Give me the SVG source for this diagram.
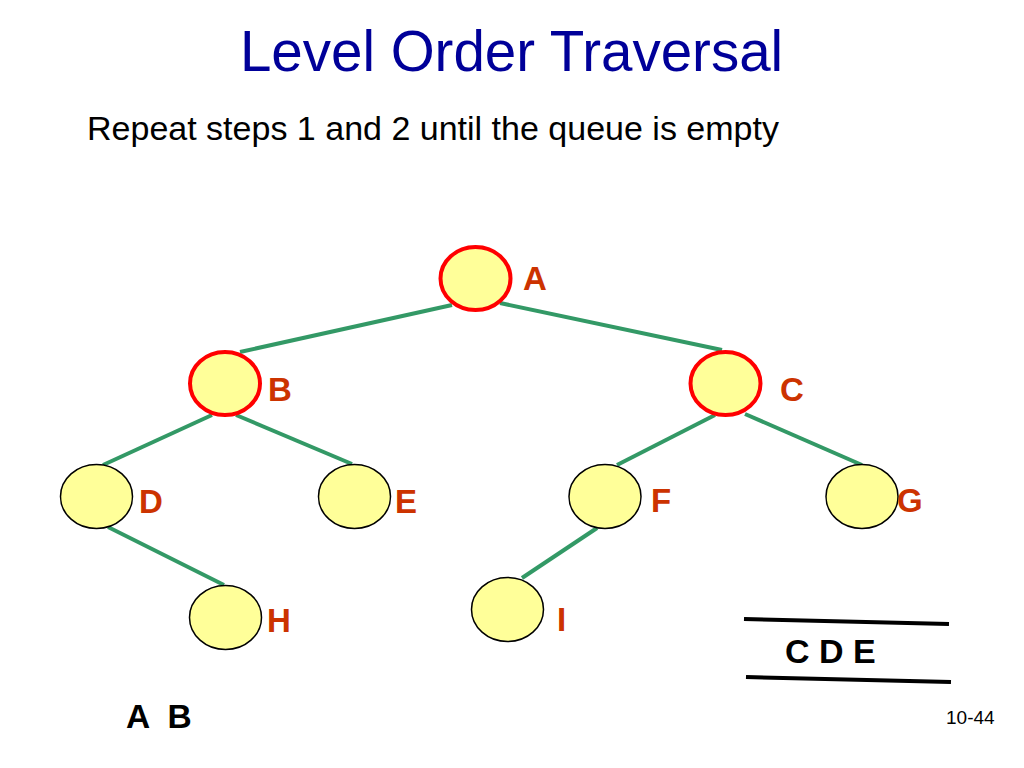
<svg xmlns="http://www.w3.org/2000/svg" width="1024" height="768" viewBox="0 0 1024 768">
<style>
.edge{stroke:#339966;stroke-width:4;stroke-linecap:butt;fill:none}
.vis{fill:#ffff99;stroke:#ff0000;stroke-width:4}
.node{fill:#ffff99;stroke:#000000;stroke-width:1.5}
.lbl{font-family:"Liberation Sans",Arial,sans-serif;font-weight:bold;font-size:33px;fill:#cc3300}
.q{font-family:"Liberation Sans",Arial,sans-serif;font-weight:bold;fill:#000000}
.bar{stroke:#000000;stroke-width:4}
</style>
<rect width="1024" height="768" fill="#ffffff"/>
<text x="511.5" y="71" text-anchor="middle" font-family="'Liberation Sans',Arial,sans-serif" font-size="56.5" fill="#000099">Level Order Traversal</text>
<text x="87" y="140" font-family="'Liberation Sans',Arial,sans-serif" font-size="33" fill="#000000" textLength="692" lengthAdjust="spacingAndGlyphs">Repeat steps 1 and 2 until the queue is empty</text>
<g id="connectors">
<line class="edge" x1="452" y1="305" x2="240" y2="352"/>
<line class="edge" x1="500" y1="303" x2="722" y2="350"/>
<line class="edge" x1="212" y1="415" x2="103" y2="465"/>
<line class="edge" x1="236" y1="415" x2="352" y2="464"/>
<line class="edge" x1="108" y1="527" x2="224" y2="585"/>
<line class="edge" x1="715" y1="415" x2="617" y2="465"/>
<line class="edge" x1="745" y1="414" x2="862" y2="465"/>
<line class="edge" x1="597" y1="528" x2="522" y2="578"/>
</g>
<g id="node-A"><ellipse class="vis" cx="475.5" cy="278.5" rx="35" ry="31.5"/><text class="lbl" x="523" y="290">A</text></g>
<g id="node-B"><ellipse class="vis" cx="225" cy="383.5" rx="35" ry="31.5"/><text class="lbl" x="268" y="401">B</text></g>
<g id="node-C"><ellipse class="vis" cx="725.5" cy="383.5" rx="35" ry="31.5"/><text class="lbl" x="780" y="401">C</text></g>
<g id="node-D"><ellipse class="node" cx="96.5" cy="496.5" rx="36" ry="32"/><text class="lbl" x="139" y="513">D</text></g>
<g id="node-E"><ellipse class="node" cx="354.5" cy="496.5" rx="36" ry="32"/><text class="lbl" x="395" y="513">E</text></g>
<g id="node-F"><ellipse class="node" cx="605" cy="496.5" rx="36" ry="32"/><text class="lbl" x="651" y="512">F</text></g>
<g id="node-G"><ellipse class="node" cx="862" cy="496.5" rx="36" ry="32"/><text class="lbl" x="897" y="512">G</text></g>
<g id="node-H"><ellipse class="node" cx="225.5" cy="617.5" rx="36" ry="32"/><text class="lbl" x="267" y="632">H</text></g>
<g id="node-I"><ellipse class="node" cx="507.5" cy="609.5" rx="36" ry="32"/><text class="lbl" x="557" y="631">I</text></g>
<g id="queue">
<line class="bar" x1="744" y1="619" x2="949" y2="624"/>
<line class="bar" x1="746" y1="677" x2="951" y2="682"/>
<text class="q" x="785" y="663" font-size="34">C D E</text>
</g>
<text class="q" x="126" y="728" font-size="33.5" xml:space="preserve">A  B</text>
<text x="946" y="724" font-family="'Liberation Sans',Arial,sans-serif" font-size="19" fill="#000000">10-44</text>
</svg>
